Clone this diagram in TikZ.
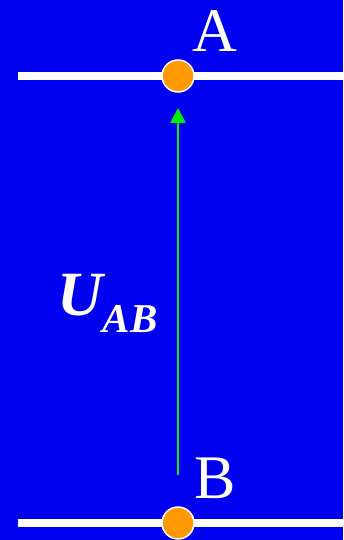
\documentclass[tikz,border=0pt]{standalone}
\usepackage{fontspec}
\setmainfont{Liberation Serif}
\usetikzlibrary{arrows.meta}
\definecolor{bg}{HTML}{0000F0}
\definecolor{dot}{HTML}{FF9900}
\definecolor{arr}{HTML}{00F000}
\tikzset{
  rail/.style={white,line width=8pt},
  pin/.style={circle,fill=dot,draw=white,line width=1.5pt,minimum size=32pt,inner sep=0pt},
  lbl/.style={white,font=\fontsize{62}{62}\selectfont,anchor=base,inner sep=0pt},
  volt/.style={draw=arr,line width=2.5pt,-{Triangle[width=15pt,length=15pt]}}
}
\begin{document}
\begin{tikzpicture}[x=1pt,y=-1pt]
\fill[bg] (0,0) rectangle (343,540);
\useasboundingbox (0,0) rectangle (343,540);
\coordinate (r1a) at (18,76);
\coordinate (r1b) at (343,76);
\coordinate (r2a) at (18,523);
\coordinate (r2b) at (343,523);
\draw[rail] (r1a) -- (r1b);
\draw[rail] (r2a) -- (r2b);
\node[pin] (a) at (178,76) {};
\node[pin] (b) at (178,523) {};
\coordinate (s) at (178,475);
\coordinate (e) at (178,108);
\draw[volt] (s) -- (e);
\node[lbl] (la) at (215,52) {A};
\node[lbl] (lb) at (215,498) {B};
\node[white,anchor=base west,inner sep=0pt] (u) at (57,315)
  {\fontsize{63}{63}\selectfont\bfseries\itshape U\raisebox{-17pt}{\fontsize{41}{41}\selectfont AB}};
\end{tikzpicture}
\end{document}
